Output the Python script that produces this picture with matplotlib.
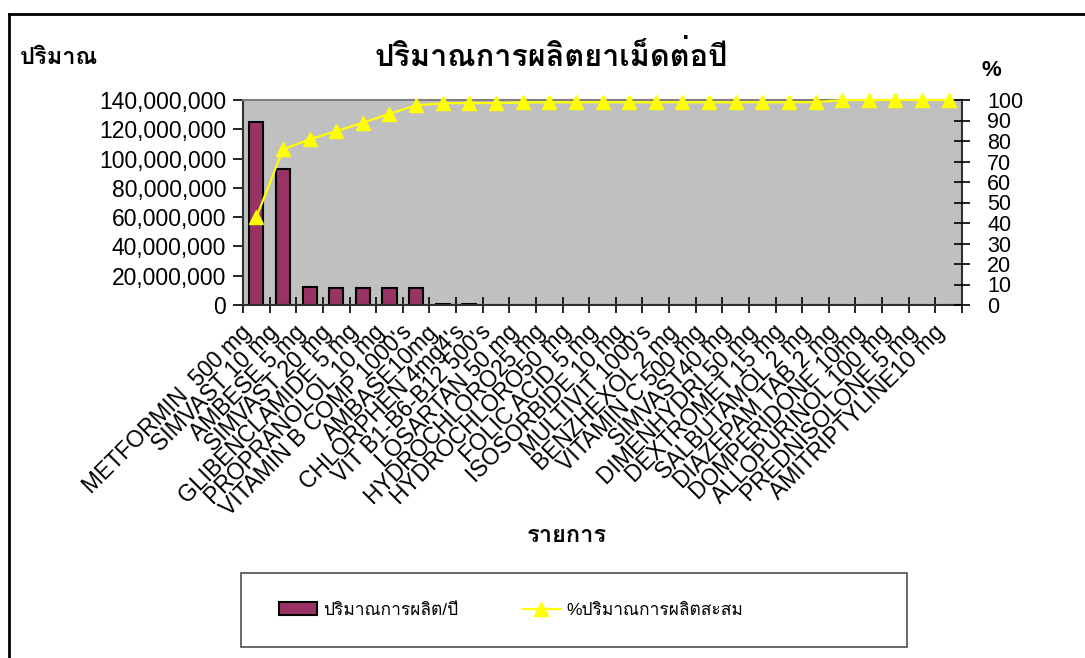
import numpy as np
import matplotlib
matplotlib.use("Agg")
import matplotlib.pyplot as plt
from matplotlib import font_manager
from matplotlib.ft2font import FT2Font
from matplotlib.ticker import FuncFormatter, FixedLocator
from matplotlib.transforms import ScaledTranslation
from matplotlib.lines import Line2D
from matplotlib.patches import Rectangle


def thai_family():
    # first installed font that has Thai glyphs
    for f in font_manager.fontManager.ttflist:
        try:
            if 0x0E1B in FT2Font(f.fname).get_charmap():
                return f.name
        except Exception:
            pass
    return None


thai = thai_family()
fams = ['Liberation Sans']
if thai:
    fams.append(thai)
fams.append('DejaVu Sans')
plt.rcParams['font.family'] = fams

drugs = ["METFORMIN  500 mg", "SIMVAST 10 mg", "AMBESE 5 mg", "SIMVAST 20 mg",
         "GLIBENCLAMIDE 5 mg", "PROPRANOLOL 10 mg", "VITAMIN B COMP 1000's",
         "AMBASE10mg", "CHLORPHEN 4mg4's", "VIT B1-B6-B12 500's", "LOSARTAN 50 mg",
         "HYDROCHLORO25 mg", "HYDROCHLORO50 mg", "FOLIC ACID 5 mg", "ISOSORBIDE 10 mg",
         "MULTIVIT 1000's", "BENZHEXOL 2 mg", "VITAMIN C 500 mg", "SIMVAST40 mg",
         "DIMENHYDRI 50 mg", "DEXTROMET 15 mg", "SALBUTAMOL 2 mg", "DIAZEPAM TAB 2 mg",
         "DOMPERIDONE 10mg", "ALLOPURINOL 100 mg", "PREDNISOLONE 5 mg", "AMITRIPTYLINE10 mg"]

qty = [125000000, 93200000, 12500000, 11400000, 11400000, 11400000, 11400000,
       900000, 800000, 300000, 280000, 250000, 230000, 200000, 180000,
       160000, 150000, 140000, 130000, 120000, 110000, 100000, 90000,
       80000, 70000, 60000, 50000]

cum_pct = [42.7, 75.9, 80.8, 84.8, 88.9, 93.3, 97.4, 98.4, 98.5, 98.5, 98.8,
           98.9, 98.9, 98.9, 98.9, 98.9, 98.9, 98.9, 98.9, 98.9, 98.9, 99.0,
           99.9, 100, 100, 100, 100]

title = "ปริมาณการผลิตยาเม็ดต่อปี"
ylab_left = "ปริมาณ"
ylab_right = "%"
xlab = "รายการ"
bar_name = "ปริมาณการผลิต/ปี"
line_name = "%ปริมาณการผลิตสะสม"

W, H = 1085, 658
fig = plt.figure(figsize=(W / 100, H / 100), dpi=100)
fig.patch.set_facecolor('white')

ax = fig.add_axes([243 / W, 1 - 305 / H, (962 - 243) / W, (305 - 100) / H])
ax.set_facecolor('#C0C0C0')
x = np.arange(len(drugs))
bars = ax.bar(x, qty, width=0.53, color='#993366', edgecolor='black', linewidth=1.5,
              label=bar_name, zorder=2)
ax.set_xlim(-0.5, len(drugs) - 0.5)
ax.set_ylim(0, 140000000)
ax.set_yticks(np.arange(0, 140000001, 20000000))
ax.yaxis.set_major_formatter(FuncFormatter(lambda v, p: f"{int(v):,}"))
ax.tick_params(axis='y', labelsize=16.5, length=7, width=1.2, pad=5, direction='out')

# category labels at bar centres, tick marks at the boundaries
ax.set_xticks(x)
ax.set_xticklabels(drugs, rotation=45, ha='right', va='center',
                   rotation_mode='anchor', fontsize=16.5)
ax.tick_params(axis='x', which='major', length=0, pad=17)
shift = ScaledTranslation(-8 / 100, 0, fig.dpi_scale_trans)
for lab in ax.get_xticklabels():
    lab.set_transform(lab.get_transform() + shift)
ax.xaxis.set_minor_locator(FixedLocator(np.arange(-0.5, len(drugs), 1.0)))
ax.tick_params(axis='x', which='minor', length=12, width=1.2, direction='inout')

for s in ['left', 'bottom', 'right']:
    ax.spines[s].set_color('#303030')
    ax.spines[s].set_linewidth(1.5)
ax.spines['top'].set_color('#808080')
ax.spines['top'].set_linewidth(1.5)

ax2 = ax.twinx()
ln, = ax2.plot(x, cum_pct, color='#FFFF00', linewidth=1.6, marker='^',
               markersize=10, markerfacecolor='#FFFF00', markeredgecolor='#FFFF00',
               label=line_name, zorder=3, clip_on=False)
ax2.set_ylim(0, 100)
ax2.set_yticks(np.arange(0, 101, 10))
ax2.tick_params(axis='y', labelsize=15.5, length=12, width=1.2, pad=12,
                direction='inout')
for s in ax2.spines.values():
    s.set_visible(False)

fig.text(551 / W, 1 - 57 / H, title, ha='center', va='center', fontsize=22,
         fontweight='bold')
fig.text(20 / W, 1 - 57 / H, ylab_left, ha='left', va='center', fontsize=17,
         fontweight='bold')
fig.text(991 / W, 1 - 70 / H, ylab_right, ha='center', va='center', fontsize=16,
         fontweight='bold')
fig.text(567 / W, 1 - 535 / H, xlab, ha='center', va='center', fontsize=17,
         fontweight='bold')

# outer frame, top and left edges only
fig.add_artist(Line2D([9 / W, 9 / W], [0, 1 - 14 / H], transform=fig.transFigure,
                      color='black', linewidth=2))
fig.add_artist(Line2D([9 / W, 1], [1 - 14 / H, 1 - 14 / H], transform=fig.transFigure,
                      color='black', linewidth=2))

# legend box
fig.add_artist(Rectangle((241 / W, 1 - 647 / H), (907 - 241) / W, (647 - 573) / H,
                         transform=fig.transFigure, facecolor='white',
                         edgecolor='#505050', linewidth=1.2))
fig.legend([bars, ln], [bar_name, line_name], loc='center left',
           bbox_to_anchor=(263 / W, 1 - 610 / H), ncol=2, frameon=False,
           fontsize=12.5, columnspacing=3.7, handlelength=2.2, handletextpad=0.35)

fig.savefig('out.png', dpi=100)
